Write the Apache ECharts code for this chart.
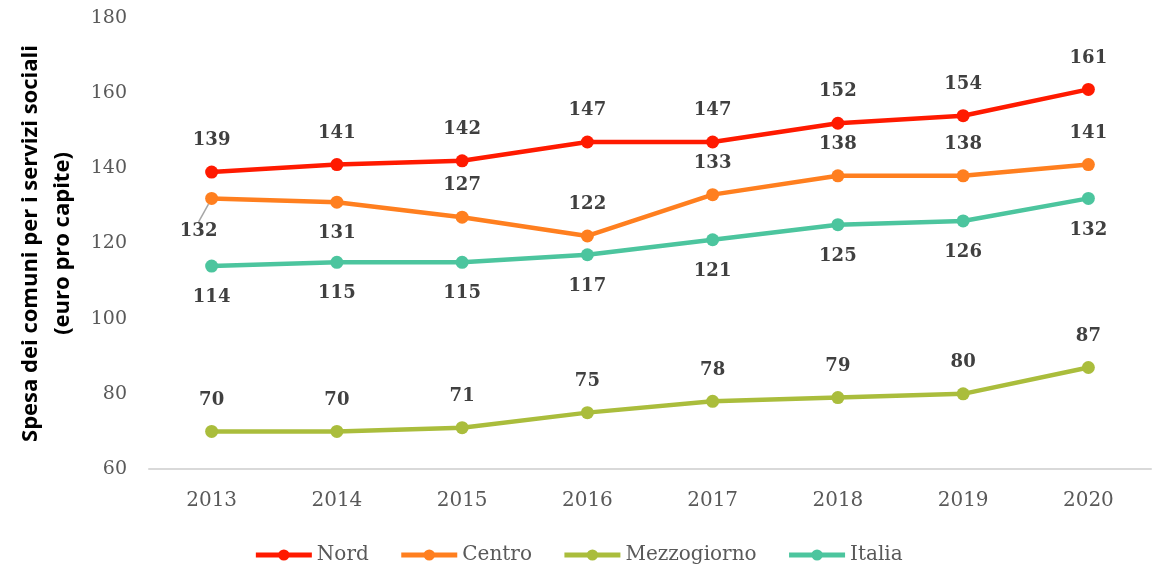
<!DOCTYPE html>
<html>
<head>
<meta charset="utf-8">
<script src="https://cdn.jsdelivr.net/npm/echarts@6/dist/echarts.min.js"></script>
<style>
  html, body { margin: 0; padding: 0; background: #fff; }
  #chart { width: 1156px; height: 566px; }
</style>
</head>
<body>
<div id="chart"></div>
<script>
const years = ['2013', '2014', '2015', '2016', '2017', '2018', '2019', '2020']
const nord = [139, 141, 142, 147, 147, 152, 154, 161]
const centro = [132, 131, 127, 122, 133, 138, 138, 141]
const mezzogiorno = [70, 70, 71, 75, 78, 79, 80, 87]
const italia = [114, 115, 115, 117, 121, 125, 126, 132]
const yTicks = [60, 80, 100, 120, 140, 160, 180]

const slab = '"DejaVu Serif", serif'
const colors = ['#FF1A00', '#FF7F1F', '#AABD3C', '#4CC59E']

// posizione delle etichette della serie Centro (2013 e 2014 sotto, il resto sopra)
const centroPos = ['bottom', 'bottom', 'top', 'top', 'top', 'top', 'top', 'top']

const makeSeries = (name, values, color, pos) => ({
  name,
  type: 'line',
  symbol: 'circle',
  symbolSize: 13,
  lineStyle: { width: 4.5, color },
  itemStyle: { color },
  label: {
    show: true,
    position: pos,
    distance: 16,
    color: '#404040',
    fontFamily: slab,
    fontWeight: 'bold',
    fontSize: 18,
  },
  data: values,
})

const chart = echarts.init(document.getElementById('chart'))
const centroSeries = makeSeries('Centro', centro.map((v, i) => ({
  value: v,
  label: { position: centroPos[i] },
  labelLine: { show: i === 0, lineStyle: { color: '#A6A6A6', width: 1.5 } },
})), colors[1], 'top')
centroSeries.labelLayout = (params) => {
  if (params.dataIndex === 0) return { dx: -13, dy: 1 }
  return {}
}

chart.setOption({
  animation: false,
  grid: { left: 149, right: 5, top: 18, bottom: 97 },
  legend: {
    top: 540,
    left: 'center',
    itemWidth: 56,
    itemHeight: 14,
    itemGap: 30,
    lineStyle: { width: 5 },
    textStyle: { color: '#595959', fontFamily: slab, fontSize: 20 },
    data: ['Nord', 'Centro', 'Mezzogiorno', 'Italia'],
  },
  xAxis: {
    type: 'category',
    data: years,
    boundaryGap: true,
    axisLine: { lineStyle: { color: '#D9D9D9', width: 2 } },
    axisTick: { show: false },
    axisLabel: { color: '#595959', fontFamily: slab, fontSize: 20, margin: 22 },
  },
  yAxis: {
    type: 'value',
    min: yTicks[0],
    max: yTicks[yTicks.length - 1],
    interval: 20,
    name: 'Spesa dei comuni per i servizi sociali\n(euro pro capite)',
    nameLocation: 'middle',
    nameGap: 70,
    nameRotate: 90,
    nameTextStyle: {
      color: '#000',
      fontFamily: '"Open Sans", sans-serif',
      fontWeight: 'bold',
      fontSize: 22,
      lineHeight: 32,
    },
    axisLine: { show: false },
    axisTick: { show: false },
    splitLine: { show: false },
    axisLabel: { color: '#595959', fontFamily: slab, fontSize: 19, margin: 22 },
  },
  series: [
    makeSeries('Nord', nord, colors[0], 'top'),
    centroSeries,
    makeSeries('Mezzogiorno', mezzogiorno, colors[2], 'top'),
    makeSeries('Italia', italia, colors[3], 'bottom'),
  ],
})
</script>
</body>
</html>
